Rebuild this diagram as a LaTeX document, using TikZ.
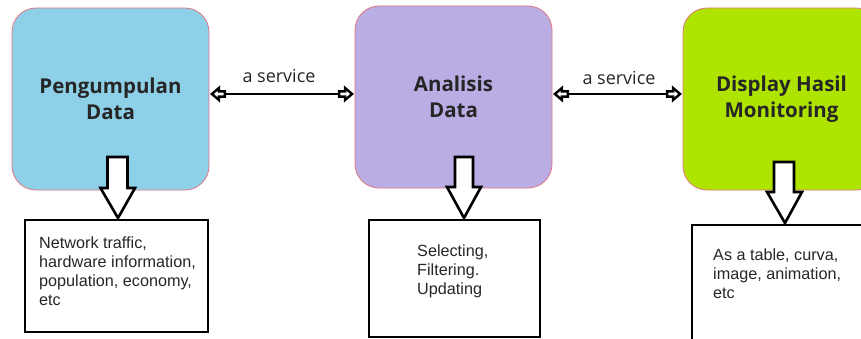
\documentclass[tikz,border=0pt]{standalone}
\usepackage{fontspec}
\setmainfont{Liberation Sans}
\newfontfamily\titlefont{Open Sans}
\usetikzlibrary{arrows.meta,calc}
\definecolor{cblue}{HTML}{8DD0E8}
\definecolor{cpurple}{HTML}{B9ADE4}
\definecolor{cgreen}{HTML}{AEE400}
\definecolor{cborder}{HTML}{E07884}
\tikzset{
  phase/.style={draw=cborder, line width=0.8pt, rounded corners=24pt, minimum width=197pt, minimum height=182pt, inner sep=0pt, align=center, font=\titlefont\bfseries\fontsize{20.5}{26}\selectfont, text=black!85},
  infobox/.style={draw=black, line width=2.6pt, inner sep=0pt},
  infotext/.style={align=left, anchor=north west, font=\fontsize{16.2}{19}\selectfont, text=black!85, inner sep=0pt},
  svcline/.style={line width=2.4pt},
  hhead/.pic={\draw[line width=2.4pt, fill=white, line join=miter] (-1,0) -- (-8,-6) -- (-8,-2.6) -- (-14,-2.6) -- (-14,2.6) -- (-8,2.6) -- (-8,6) -- cycle;},
  svclabel/.style={font=\titlefont\fontsize{18}{20}\selectfont, text=black!85},
  bigarrow/.style={draw=black, line width=2.6pt, fill=white, line join=miter}
}
\begin{document}
\begin{tikzpicture}[x=1pt,y=-1pt]
\useasboundingbox (0,0) rectangle (861,339);
% main phases
\node[phase, fill=cblue] (p1) at (110.5,99) {Pengumpulan\\Data};
\node[phase, fill=cpurple] (p2) at (453.5,97) {Analisis\\Data};
\node[phase, fill=cgreen] (p3) at (781.5,99) {Display Hasil\\Monitoring};
% info boxes
\node[infobox, minimum width=183pt, minimum height=112pt] (b1) at (116.5,276) {};
\node[infobox, minimum width=171pt, minimum height=117pt] (b2) at (454.5,278.5) {};
\node[infobox, minimum width=190pt, minimum height=130pt] (b3) at (787,290) {};
\node[infotext] (t1) at (39,237) {Network traffic,\\hardware information,\\population, economy,\\etc};
\node[infotext] (t2) at (417,245) {Selecting,\\Filtering.\\Updating};
\node[infotext] (t3) at (713,249) {As a table, curva,\\image, animation,\\etc};
% services
\coordinate (a1) at ([xshift=1.5pt]p1.east |- 0,94);
\coordinate (a2) at ([xshift=-1.5pt]p2.west |- 0,94);
\coordinate (a3) at ([xshift=1.5pt]p2.east |- 0,94);
\coordinate (a4) at ([xshift=-1.5pt]p3.west |- 0,94);
\draw[svcline] ([xshift=13pt]a1) -- ([xshift=-13pt]a2);
\draw[svcline] ([xshift=13pt]a3) -- ([xshift=-13pt]a4);
\pic[rotate=180] at (a1) {hhead};
\pic at (a2) {hhead};
\pic[rotate=180] at (a3) {hhead};
\pic at (a4) {hhead};
\node[svclabel] (s1) at (279,76) {a service};
\node[svclabel] (s2) at (619,78) {a service};
% down arrows
\draw[bigarrow] (107.5,157) -- (127.5,157) -- (127.5,188) -- (135,188) -- (118,218) -- (100.5,188) -- (107.5,188) -- cycle;
\draw[bigarrow] (455,157) -- (473,157) -- (473,187) -- (481,187) -- (464,218) -- (447,187) -- (455,187) -- cycle;
\draw[bigarrow] (774,162) -- (794,162) -- (794,192) -- (802,192) -- (785,223) -- (767,192) -- (774,192) -- cycle;
\end{tikzpicture}
\end{document}
